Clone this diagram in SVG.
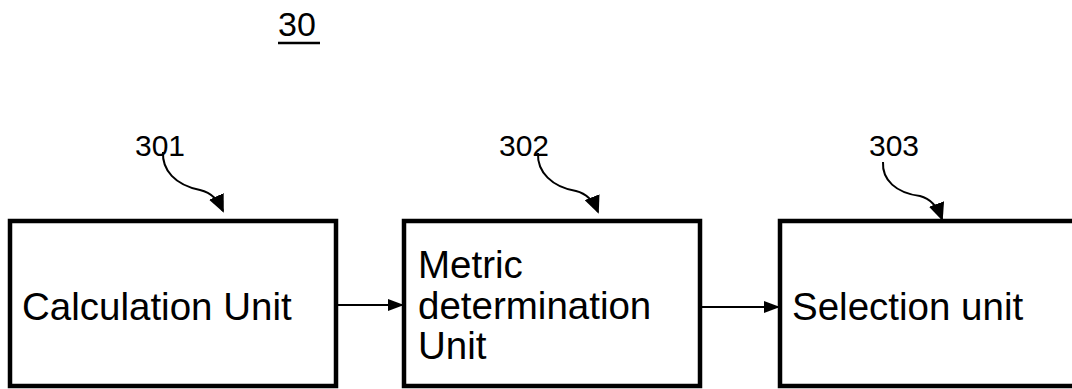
<svg xmlns="http://www.w3.org/2000/svg" width="1072" height="389" viewBox="0 0 1072 389">
  <defs>
    <style>
      .box { fill: #fff; stroke: #000; stroke-width: 4.5; }
      .lbl { font-family: "Liberation Sans", Arial, sans-serif; font-size: 38.5px; fill: #000; }
      .ref { font-family: "Liberation Sans", Arial, sans-serif; font-size: 30px; fill: #000; }
      .wire { fill: none; stroke: #000; stroke-width: 2; }
    </style>
    <marker id="head" markerWidth="16" markerHeight="12" refX="15" refY="6" orient="auto" markerUnits="userSpaceOnUse" viewBox="0 0 16 12">
      <path d="M0,0 L16,6 L0,12 z" fill="#000"/>
    </marker>
    <marker id="bighead" markerWidth="18" markerHeight="16" refX="16" refY="8" orient="auto" markerUnits="userSpaceOnUse" viewBox="0 0 18 16">
      <path d="M0,0 L18,8 L0,16 z" fill="#000"/>
    </marker>
  </defs>
  <rect width="1072" height="389" fill="#fff"/>

  <!-- figure number -->
  <g id="title">
    <text class="ref" x="278" y="36" style="font-size:34px">30</text>
    <line x1="278" y1="43" x2="320" y2="43" stroke="#000" stroke-width="2.5"/>
  </g>

  <g id="n301">
    <rect class="box" x="10" y="221" width="326" height="165"/>
    <text class="lbl" x="22" y="320">Calculation Unit</text>
  </g>
  <g id="n302">
    <rect class="box" x="404" y="221" width="296" height="165"/>
    <text class="lbl" x="418" y="278">Metric</text>
    <text class="lbl" x="418" y="319">determination</text>
    <text class="lbl" x="418" y="359">Unit</text>
  </g>
  <g id="n303">
    <rect class="box" x="780" y="221" width="300" height="165"/>
    <text class="lbl" x="792" y="320">Selection unit</text>
  </g>

  <!-- reference numerals -->
  <g id="refs">
    <text class="ref" x="135" y="156">301</text>
    <text class="ref" x="499" y="156">302</text>
    <text class="ref" x="869" y="156">303</text>
  </g>

  <g id="connectors">
    <line class="wire" x1="336" y1="305" x2="403" y2="305" marker-end="url(#head)"/>
    <line class="wire" x1="700" y1="307" x2="779" y2="307" marker-end="url(#head)"/>
    <path class="wire" d="M163,152 C162,170 175,185 200,190 C212,193 218,200 223,211" marker-end="url(#bighead)"/>
    <path class="wire" d="M538,153 C537,172 552,187 576,191 C588,194 594,202 598,212" marker-end="url(#bighead)"/>
    <path class="wire" d="M883,162 C882,180 896,193 920,196 C932,199 938,208 942,219" marker-end="url(#bighead)"/>
  </g>
</svg>
